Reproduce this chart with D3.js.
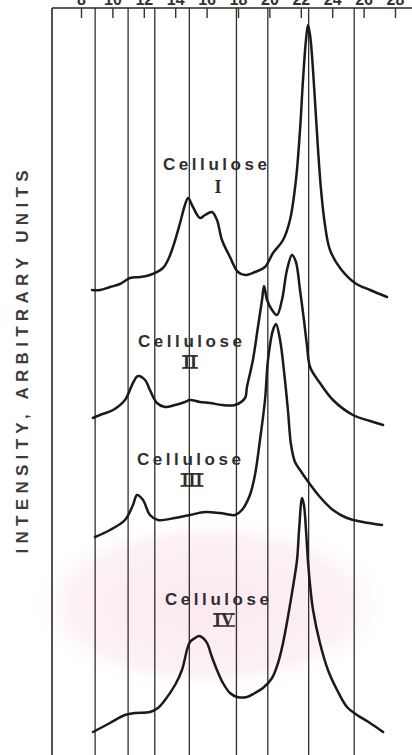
<!DOCTYPE html>
<html>
<head>
<meta charset="utf-8">
<script src="https://cdn.jsdelivr.net/npm/d3@7"></script>
<style>
  html, body { margin: 0; padding: 0; background: #fff; }
  svg { display: block; }
</style>
</head>
<body>
<svg id="chart" width="412" height="755"></svg>
<script>
// Diffraction angle ticks (2θ, degrees) along the top edge
const tickValues = [8, 10, 12, 14, 16, 18, 20, 22, 24, 26, 28];

// Reference lines drawn across the full height (2θ, degrees)
const refLines = [8.9, 11.0, 12.7, 14.9, 17.9, 19.9, 22.5, 25.4];

// Polymorph names and the vertical offset of each trace (arbitrary units)
const forms = ["I", "II", "III", "IV"];
const offsets = [90, 65, 41, 2];

// Intensity traces: [2θ, intensity above the trace's own baseline]
const celluloseI = [
  [8.70, 1.0], [9.21, 1.0], [9.85, 1.6], [10.48, 2.2], [11.12, 3.4], [11.76, 3.6],
  [12.39, 4.0], [13.22, 5.4], [13.54, 7.0], [13.86, 9.6], [14.31, 14.4], [14.62, 18.0],
  [14.82, 19.4], [15.13, 17.6], [15.58, 15.4], [15.90, 16.0], [16.34, 16.6], [16.66, 15.0],
  [16.98, 11.0], [17.49, 7.6], [18.00, 4.6], [18.45, 4.0], [19.08, 4.6], [19.72, 5.6],
  [20.23, 8.4], [20.87, 11.0], [21.31, 15.0], [21.69, 23.0], [21.95, 33.0], [22.14, 43.0],
  [22.33, 51.0], [22.46, 54.0], [22.59, 52.0], [22.71, 48.0], [22.90, 39.0], [23.10, 29.0],
  [23.29, 21.0], [23.54, 14.0], [23.86, 9.0], [24.50, 5.4], [25.45, 2.4], [26.41, 1.0],
  [27.49, -0.4]
];
const celluloseII = [
  [8.76, 0.4], [9.21, 1.0], [10.04, 2.0], [10.80, 4.0], [11.31, 7.4], [11.63, 8.8],
  [12.08, 8.0], [12.39, 6.0], [12.84, 3.4], [13.35, 2.6], [13.99, 3.0], [14.62, 3.6],
  [14.94, 4.0], [15.58, 3.6], [16.22, 3.4], [16.98, 3.0], [17.81, 3.0], [18.45, 4.4],
  [18.57, 6.6], [18.95, 12.0], [19.27, 18.6], [19.53, 24.0], [19.66, 26.8], [19.85, 24.0],
  [20.17, 22.0], [20.48, 21.0], [20.80, 24.0], [21.12, 30.0], [21.44, 33.0], [21.69, 31.6],
  [21.95, 26.0], [22.20, 20.0], [22.39, 15.0], [22.59, 10.6], [23.22, 7.4], [24.05, 4.0],
  [25.32, 1.0], [26.41, -0.2], [27.24, -1.0]
];
const celluloseIII = [
  [8.89, 0.6], [9.85, 2.0], [10.80, 4.0], [11.31, 7.0], [11.57, 9.0], [11.95, 8.0],
  [12.39, 5.0], [12.90, 4.0], [13.99, 4.4], [14.94, 5.0], [15.90, 5.6], [16.85, 5.4],
  [17.81, 5.0], [18.25, 6.0], [18.76, 9.0], [19.08, 13.0], [19.40, 20.0], [19.72, 28.0],
  [19.91, 36.0], [20.23, 42.0], [20.42, 43.2], [20.68, 40.0], [20.99, 32.0], [21.18, 26.0],
  [21.38, 19.0], [21.63, 15.6], [21.95, 14.0], [22.39, 12.0], [23.22, 8.6], [24.05, 6.0],
  [24.94, 4.4], [25.96, 3.6], [27.17, 3.0]
];
const celluloseIV = [
  [8.76, 0.6], [9.85, 2.4], [10.80, 4.0], [11.44, 4.4], [12.39, 4.6], [12.90, 5.4],
  [13.35, 7.0], [13.99, 10.0], [14.43, 13.0], [14.75, 17.0], [14.94, 18.6], [15.26, 19.4],
  [15.52, 19.8], [15.77, 19.4], [16.03, 18.4], [16.34, 15.6], [16.66, 13.0], [17.04, 10.4],
  [17.49, 8.4], [17.94, 7.6], [18.57, 7.6], [19.08, 8.4], [19.59, 9.4], [20.17, 11.4],
  [20.55, 14.4], [20.87, 18.4], [21.18, 23.6], [21.50, 29.6], [21.76, 35.0], [21.89, 41.0],
  [22.08, 47.4], [22.20, 46.0], [22.33, 41.0], [22.46, 34.6], [22.59, 30.0], [22.78, 25.0],
  [23.22, 18.4], [23.73, 13.0], [24.31, 9.0], [24.94, 5.6], [25.58, 4.0], [26.41, 2.4],
  [27.24, 0.6]
];
const traces = [celluloseI, celluloseII, celluloseIII, celluloseIV];

// ---- layout ----
const W = 412, H = 755;
const frameTop = 8, frameLeft = 52;
const ink = "#262626";

const svg = d3.select("#chart");

// soft pink tint in the lower background
const defs = svg.append("defs");
const grad = defs.append("radialGradient").attr("id", "tint");
grad.append("stop").attr("offset", "0%").attr("stop-color", "#fae9f0");
grad.append("stop").attr("offset", "75%").attr("stop-color", "#fcf1f5");
grad.append("stop").attr("offset", "100%").attr("stop-color", "#ffffff").attr("stop-opacity", 0);
svg.append("ellipse")
  .attr("cx", 210).attr("cy", 605).attr("rx", 185).attr("ry", 90)
  .attr("fill", "url(#tint)");

const x = d3.scaleLinear().domain([8, 28]).range([81, 395]);
const y = d3.scaleLinear().domain([0, 144]).range([745, 25]);

// full-height reference lines
svg.append("g").selectAll("line")
  .data(refLines)
  .join("line")
  .attr("x1", d => x(d)).attr("x2", d => x(d))
  .attr("y1", frameTop).attr("y2", H)
  .attr("stroke", "#2e2e2e").attr("stroke-width", 1.3);

// frame: top and left edges
svg.append("line")
  .attr("x1", frameLeft).attr("x2", W).attr("y1", frameTop).attr("y2", frameTop)
  .attr("stroke", ink).attr("stroke-width", 1.6);
svg.append("line")
  .attr("x1", frameLeft).attr("x2", frameLeft).attr("y1", frameTop).attr("y2", H)
  .attr("stroke", ink).attr("stroke-width", 1.6);

// top axis with inward ticks
const axis = d3.axisTop(x)
  .tickValues(tickValues)
  .tickSize(-10)
  .tickPadding(3)
  .tickFormat(d3.format("d"));
const gx = svg.append("g")
  .attr("transform", `translate(0,${frameTop})`)
  .call(axis);
gx.select(".domain").remove();
gx.selectAll(".tick line").attr("stroke", "#333").attr("stroke-width", 1.4);
gx.selectAll(".tick text")
  .attr("fill", "#333")
  .attr("font-size", 16)
  .attr("font-weight", "bold")
  .attr("font-family", "'Liberation Sans', Arial, sans-serif");

// intensity traces
const line = d3.line()
  .x(d => x(d[0]))
  .curve(d3.curveCatmullRom.alpha(0.5));
svg.append("g").selectAll("path")
  .data(traces.map((t, i) => ({ form: forms[i], offset: offsets[i], points: t })))
  .join("path")
  .attr("d", s => line.y(d => y(d[1] + s.offset))(s.points))
  .attr("fill", "none")
  .attr("stroke", "#1a1a1a")
  .attr("stroke-width", 2.5)
  .attr("stroke-linejoin", "round")
  .attr("stroke-linecap", "round");

// trace labels
const labelPos = [
  { cx: 215, by: 170, nx: 218, nby: 193 },
  { cx: 190, by: 347, nx: 190, nby: 368 },
  { cx: 189, by: 465, nx: 192, nby: 486 },
  { cx: 217, by: 605, nx: 224, nby: 626 }
];
const lg = svg.append("g");
forms.forEach((f, i) => {
  const p = labelPos[i];
  lg.append("text")
    .attr("x", p.cx).attr("y", p.by)
    .attr("text-anchor", "middle")
    .attr("font-family", "'Liberation Sans', Arial, sans-serif")
    .attr("font-weight", "bold")
    .attr("font-size", 17)
    .attr("fill", "#2f2f2f")
    .attr("textLength", 104)
    .attr("lengthAdjust", "spacing")
    .text("Cellulose");
  const num = lg.append("text")
    .attr("x", p.nx).attr("y", p.nby)
    .attr("text-anchor", "middle")
    .attr("font-family", "'Liberation Serif', 'DejaVu Serif', serif")
    .attr("font-weight", "bold")
    .attr("font-size", 18)
    .attr("fill", "#2f2f2f")
    .text(f);
  if (f.length > 1) {
    const b = num.node().getBBox();
    const capTop = p.nby - 12;
    [capTop, p.nby].forEach(yy => {
      lg.append("line")
        .attr("x1", b.x - 1).attr("x2", b.x + b.width + 1)
        .attr("y1", yy).attr("y2", yy)
        .attr("stroke", "#2f2f2f").attr("stroke-width", 1.6);
    });
  }
});

// vertical axis title
svg.append("text")
  .attr("transform", "translate(28,362) rotate(-90)")
  .attr("text-anchor", "middle")
  .attr("font-family", "'Liberation Sans', Arial, sans-serif")
  .attr("font-weight", "bold")
  .attr("font-size", 17)
  .attr("fill", "#3c3c3c")
  .attr("textLength", 383)
  .attr("lengthAdjust", "spacing")
  .text("INTENSITY, ARBITRARY UNITS");
</script>
</body>
</html>
